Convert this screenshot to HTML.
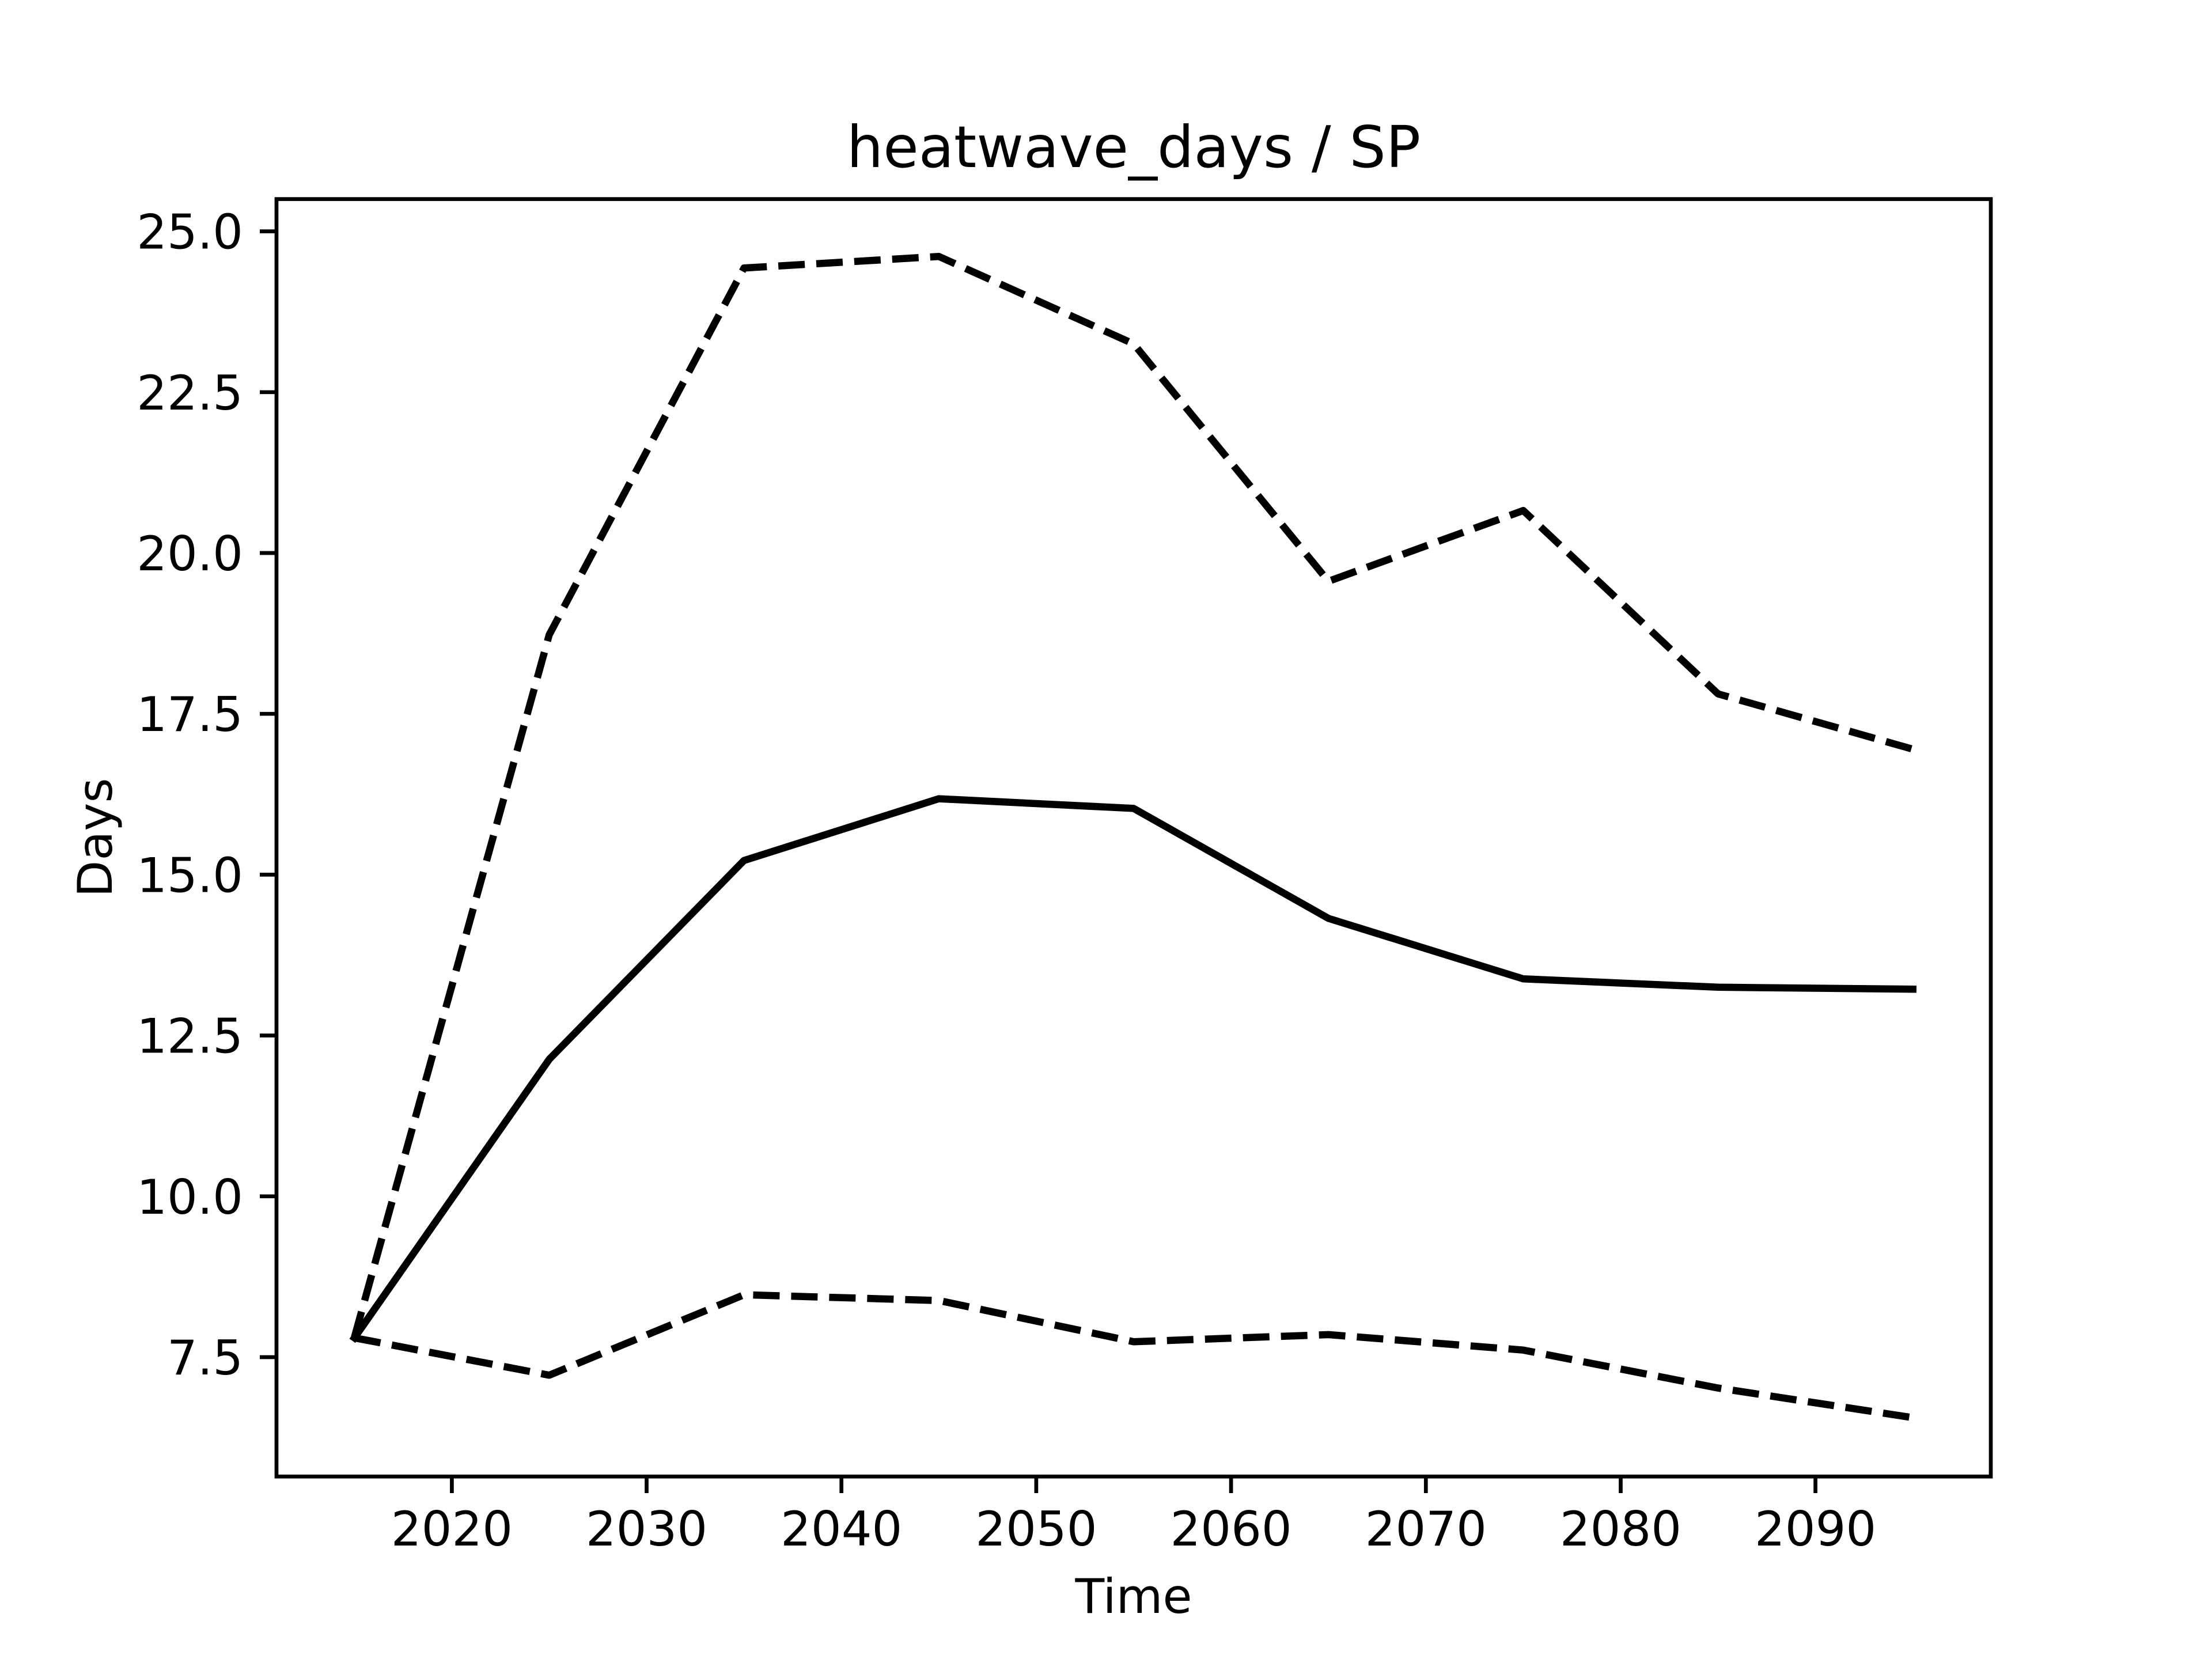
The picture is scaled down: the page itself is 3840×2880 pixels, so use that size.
<!DOCTYPE html>
<html><head><meta charset="utf-8"><style>
html,body{margin:0;padding:0;background:#fff}
svg{display:block}
text{font-family:"DejaVu Sans","Liberation Sans",sans-serif;fill:#000}
</style></head><body>
<svg width="3840" height="2880" viewBox="0 0 3840 2880" xmlns="http://www.w3.org/2000/svg">
<rect width="3840" height="2880" fill="#fff"/>
<g fill="none" stroke="#000" stroke-width="12.5" stroke-linejoin="round">
<polyline points="615.3,2322.5 953.5,1838.9 1291.6,1493.8 1629.8,1386.6 1968,1403.4 2306.2,1594.3 2644.4,1699.3 2982.5,1713.8 3320.7,1717.2" stroke-linecap="square"/>
<polyline points="615.3,2321.4 953.5,1101.8 1291.6,465.3 1629.8,445.2 1968,597 2306.2,1009.1 2644.4,886.3 2982.5,1204.6 3320.7,1300.6" stroke-dasharray="46,20" stroke-linecap="butt"/>
<polyline points="615.3,2322.5 953.5,2387.3 1291.6,2247.7 1629.8,2257.7 1968,2329.2 2306.2,2316.9 2644.4,2343.7 2982.5,2409.6 3320.7,2461" stroke-dasharray="46,20" stroke-linecap="butt"/>
</g>
<rect x="480" y="345.6" width="2976" height="2217.6" fill="none" stroke="#000" stroke-width="6.7"/>
<g stroke="#000" stroke-width="6.7">
<line x1="784.4" y1="2563" x2="784.4" y2="2592"/>
<line x1="1122.5" y1="2563" x2="1122.5" y2="2592"/>
<line x1="1460.7" y1="2563" x2="1460.7" y2="2592"/>
<line x1="1798.9" y1="2563" x2="1798.9" y2="2592"/>
<line x1="2137.1" y1="2563" x2="2137.1" y2="2592"/>
<line x1="2475.3" y1="2563" x2="2475.3" y2="2592"/>
<line x1="2813.5" y1="2563" x2="2813.5" y2="2592"/>
<line x1="3151.6" y1="2563" x2="3151.6" y2="2592"/>
<line x1="451" y1="401.6" x2="480" y2="401.6"/>
<line x1="451" y1="680.8" x2="480" y2="680.8"/>
<line x1="451" y1="960" x2="480" y2="960"/>
<line x1="451" y1="1239.2" x2="480" y2="1239.2"/>
<line x1="451" y1="1518.4" x2="480" y2="1518.4"/>
<line x1="451" y1="1797.6" x2="480" y2="1797.6"/>
<line x1="451" y1="2076.8" x2="480" y2="2076.8"/>
<line x1="451" y1="2356" x2="480" y2="2356"/>
</g>
<g font-size="83" text-anchor="middle">
<text x="784.4" y="2683">2020</text>
<text x="1122.5" y="2683">2030</text>
<text x="1460.7" y="2683">2040</text>
<text x="1798.9" y="2683">2050</text>
<text x="2137.1" y="2683">2060</text>
<text x="2475.3" y="2683">2070</text>
<text x="2813.5" y="2683">2080</text>
<text x="3151.6" y="2683">2090</text>
</g>
<g font-size="83" text-anchor="end">
<text x="422" y="431.6">25.0</text>
<text x="422" y="710.8">22.5</text>
<text x="422" y="990">20.0</text>
<text x="422" y="1269.2">17.5</text>
<text x="422" y="1548.4">15.0</text>
<text x="422" y="1827.6">12.5</text>
<text x="422" y="2106.8">10.0</text>
<text x="422" y="2386">7.5</text>
</g>
<text x="1968" y="2800" font-size="83" text-anchor="middle">Time</text>
<text transform="translate(194,1454) rotate(-90)" font-size="83" text-anchor="middle">Days</text>
<text x="1968" y="290" font-size="100" text-anchor="middle">heatwave_days / SP</text>
</svg>
</body></html>
